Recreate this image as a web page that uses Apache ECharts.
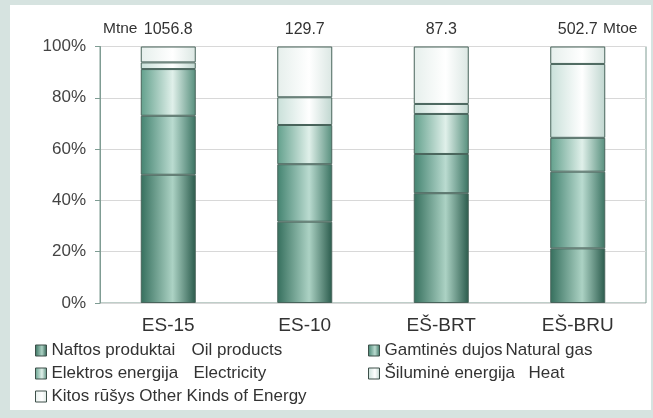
<!DOCTYPE html>
<html>
<head>
<meta charset="utf-8">
<script src="https://cdn.jsdelivr.net/npm/echarts@6/dist/echarts.min.js"></script>
<style>
html,body{margin:0;padding:0;width:653px;height:418px;background:#d6e3e0;overflow:hidden;}
#panel{position:absolute;left:10px;top:5px;width:641px;height:405px;background:#ffffff;}
#chart{position:absolute;left:0;top:0;width:653px;height:418px;}
</style>
</head>
<body>
<div id="panel"></div>
<div id="chart"></div>
<script>
const categories = ['ES-15', 'ES-10', 'EŠ-BRT', 'EŠ-BRU'];
const totals = ['1056.8', '129.7', '87.3', '502.7'];
const yTicks = [0, 20, 40, 60, 80, 100];
const oilProducts = [50.0, 31.7, 42.8, 21.3];
const naturalGas = [23.0, 22.4, 15.3, 29.9];
const electricity = [18.2, 15.3, 15.6, 13.2];
const heat = [2.6, 10.8, 3.9, 28.8];
const otherKinds = [6.2, 19.8, 22.4, 6.8];
const namesLt = ['Naftos produktai', 'Gamtinės dujos', 'Elektros energija', 'Šiluminė energija', 'Kitos rūšys'];
const namesEn = ['Oil products', 'Natural gas', 'Electricity', 'Heat', 'Other Kinds of Energy'];
const seriesNames = namesLt.map((n, i) => n + ' ' + namesEn[i]);

function grad(l, m, r) {
  return new echarts.graphic.LinearGradient(0, 0, 1, 0, [
    {offset: 0, color: l},
    {offset: 0.58, color: m},
    {offset: 1, color: r}
  ]);
}
const colors = [
  grad('#356f5d', '#acd2c4', '#2a5b4c'),
  grad('#438370', '#badbd0', '#3a7261'),
  grad('#62a08c', '#e0f0ea', '#578f7d'),
  grad('#c9e0d9', '#ffffff', '#bfd6cf'),
  grad('#e6efec', '#ffffff', '#dbe7e3')
];
const values = [oilProducts, naturalGas, electricity, heat, otherKinds];

const FONT = 'Liberation Sans, Arial, sans-serif';
const chart = echarts.init(document.getElementById('chart'));

const legendLayout = [
  {left: 35, top: 342, w: 140}, {left: 368, top: 342, w: 121},
  {left: 35, top: 365, w: 142}, {left: 368, top: 365, w: 144},
  {left: 35, top: 388, w: 0}
];

chart.setOption({
  animation: false,
  textStyle: {fontFamily: FONT},
  grid: {left: 100, right: 7, top: 46.5, bottom: 115, show: true, borderColor: '#7f9c93', borderWidth: 1, backgroundColor: 'transparent'},
  legend: legendLayout.map((p, i) => ({
    left: p.left, top: p.top, padding: 0, orient: 'horizontal',
    data: [seriesNames[i]],
    icon: 'rect', itemWidth: 11, itemHeight: 11,
    selectedMode: false,
    itemStyle: {borderColor: '#3d4f49', borderWidth: 1},
    formatter: function () {
      return p.w ? '{a|' + namesLt[i] + '}{b|' + namesEn[i] + '}' : '{b|' + namesLt[i] + ' ' + namesEn[i] + '}';
    },
    textStyle: {
      fontSize: 17, color: '#333333', fontFamily: FONT,
      rich: {
        a: {width: p.w, fontSize: 17, color: '#333333', fontFamily: FONT},
        b: {fontSize: 17, color: '#333333', fontFamily: FONT}
      }
    }
  })),
  xAxis: [
    {
      type: 'category', data: categories, position: 'bottom',
      axisLine: {show: false}, axisTick: {show: false},
      axisLabel: {fontSize: 19, color: '#333333', margin: 13, fontFamily: FONT}
    },
    {
      type: 'category', data: totals, position: 'top',
      axisLine: {show: false}, axisTick: {show: false},
      axisLabel: {fontSize: 16, color: '#333333', margin: 9, fontFamily: FONT}
    }
  ],
  yAxis: {
    type: 'value', min: yTicks[0], max: yTicks[yTicks.length - 1], interval: 20,
    axisLine: {show: true, lineStyle: {color: '#7f9c93'}},
    axisTick: {show: true, length: 5, lineStyle: {color: '#7f9c93'}},
    axisLabel: {formatter: '{value}%', fontSize: 17, color: '#444444', margin: 14, fontFamily: FONT},
    splitLine: {show: true, lineStyle: {color: '#d8d8d8', width: 1}}
  },
  graphic: [
    {type: 'text', left: 103, top: 21, style: {text: 'Mtne', fontSize: 15.5, fill: '#333333', fontFamily: FONT}},
    {type: 'text', left: 603, top: 21, style: {text: 'Mtoe', fontSize: 15.5, fill: '#333333', fontFamily: FONT}}
  ],
  series: values.map((v, i) => ({
    name: seriesNames[i],
    type: 'bar',
    stack: 'total',
    barWidth: 55,
    data: v,
    itemStyle: {color: colors[i], borderColor: '#48645b', borderWidth: 1}
  }))
});
</script>
</body>
</html>
